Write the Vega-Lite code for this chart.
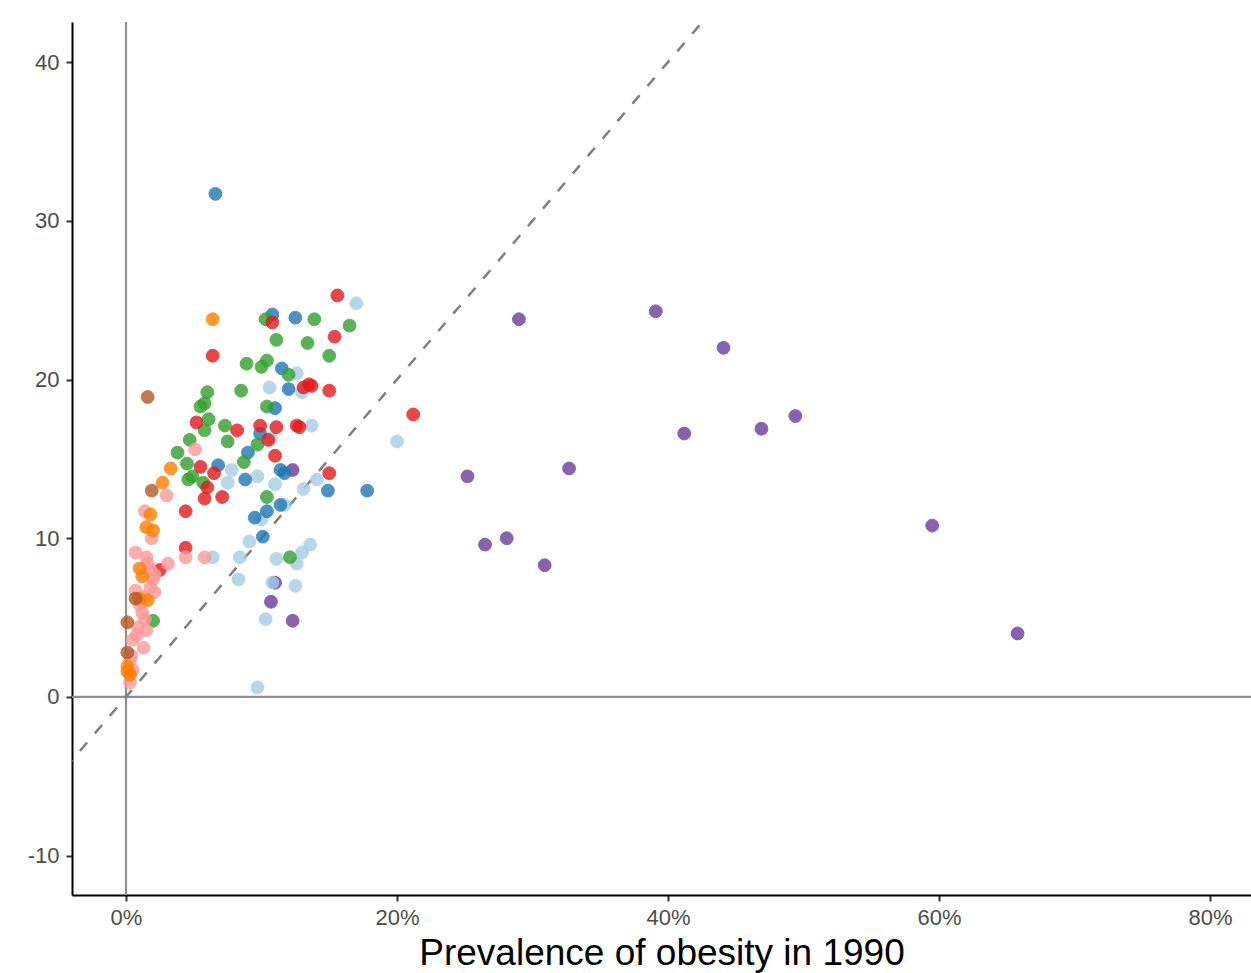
{
  "$schema": "https://vega.github.io/schema/vega-lite/v6.json",
  "width": 1179,
  "height": 873,
  "autosize": {"type": "none"},
  "padding": {"left": 72, "top": 22, "right": 0, "bottom": 78},
  "background": "white",
  "config": {
    "view": {"stroke": null},
    "axis": {
      "grid": false,
      "labelFont": "Liberation Sans",
      "labelFontSize": 22,
      "labelColor": "#4d4d4d",
      "tickColor": "#333333",
      "tickSize": 6,
      "tickWidth": 2,
      "domainColor": "#000000",
      "domainWidth": 2,
      "titleFont": "Liberation Sans",
      "titleFontSize": 37,
      "titleFontWeight": "normal",
      "titleColor": "#000000"
    },
    "axisX": {"titlePadding": 7, "labelPadding": 6},
    "axisY": {"labelPadding": 7}
  },
  "layer": [
    {
      "data": {"values": [{"x": 0}]},
      "mark": {"type": "rule", "color": "#8f8f8f", "strokeWidth": 2.2},
      "encoding": {
        "x": {"field": "x", "type": "quantitative", "scale": {"domain": [-0.03985, 0.8303], "nice": false, "zero": false}, "title": "Prevalence of obesity in 1990",
          "axis": {"values": [0, 0.2, 0.4, 0.6, 0.8], "format": ".0%"}}
      }
    },
    {
      "data": {"values": [{"y": 0}]},
      "mark": {"type": "rule", "color": "#8f8f8f", "strokeWidth": 2.2},
      "encoding": {
        "y": {"field": "y", "type": "quantitative", "scale": {"domain": [-12.48, 42.53], "nice": false, "zero": false}, "title": null,
          "axis": {"values": [-10, 0, 10, 20, 30, 40], "labelExpr": "'' + datum.value"}}
      }
    },
    {
      "data": {"values": [{"x": -0.045, "y": -4.5}, {"x": 0.44, "y": 44}]},
      "mark": {"type": "line", "color": "#7f7f7f", "strokeWidth": 2.5, "strokeDash": [11, 12], "clip": true},
      "encoding": {
        "x": {"field": "x", "type": "quantitative", "scale": {"domain": [-0.03985, 0.8303], "nice": false, "zero": false}, "title": "Prevalence of obesity in 1990",
          "axis": {"values": [0, 0.2, 0.4, 0.6, 0.8], "format": ".0%"}},
        "y": {"field": "y", "type": "quantitative", "scale": {"domain": [-12.48, 42.53], "nice": false, "zero": false}, "title": null,
          "axis": {"values": [-10, 0, 10, 20, 30, 40], "labelExpr": "'' + datum.value"}}
      }
    },
    {
      "data": {"values": [
        {"g": "Purple", "x": 0.290, "y": 23.8},
        {"g": "Purple", "x": 0.391, "y": 24.3},
        {"g": "Purple", "x": 0.441, "y": 22.0},
        {"g": "Purple", "x": 0.412, "y": 16.6},
        {"g": "Purple", "x": 0.469, "y": 16.9},
        {"g": "Purple", "x": 0.494, "y": 17.7},
        {"g": "Purple", "x": 0.327, "y": 14.4},
        {"g": "Purple", "x": 0.252, "y": 13.9},
        {"g": "Purple", "x": 0.265, "y": 9.6},
        {"g": "Purple", "x": 0.281, "y": 10.0},
        {"g": "Purple", "x": 0.309, "y": 8.3},
        {"g": "Purple", "x": 0.595, "y": 10.8},
        {"g": "Purple", "x": 0.658, "y": 4.0},
        {"g": "Purple", "x": 0.123, "y": 14.3},
        {"g": "Purple", "x": 0.110, "y": 7.2},
        {"g": "Purple", "x": 0.107, "y": 6.0},
        {"g": "Purple", "x": 0.123, "y": 4.8},

        {"g": "LightBlue", "x": 0.170, "y": 24.8},
        {"g": "LightBlue", "x": 0.106, "y": 19.5},
        {"g": "LightBlue", "x": 0.126, "y": 20.4},
        {"g": "LightBlue", "x": 0.130, "y": 19.2},
        {"g": "LightBlue", "x": 0.137, "y": 17.1},
        {"g": "LightBlue", "x": 0.107, "y": 16.3},
        {"g": "LightBlue", "x": 0.200, "y": 16.1},
        {"g": "LightBlue", "x": 0.078, "y": 14.3},
        {"g": "LightBlue", "x": 0.075, "y": 13.5},
        {"g": "LightBlue", "x": 0.097, "y": 13.9},
        {"g": "LightBlue", "x": 0.110, "y": 13.4},
        {"g": "LightBlue", "x": 0.131, "y": 13.1},
        {"g": "LightBlue", "x": 0.141, "y": 13.7},
        {"g": "LightBlue", "x": 0.117, "y": 12.1},
        {"g": "LightBlue", "x": 0.100, "y": 11.2},
        {"g": "LightBlue", "x": 0.091, "y": 9.8},
        {"g": "LightBlue", "x": 0.084, "y": 8.8},
        {"g": "LightBlue", "x": 0.064, "y": 8.8},
        {"g": "LightBlue", "x": 0.111, "y": 8.7},
        {"g": "LightBlue", "x": 0.130, "y": 9.1},
        {"g": "LightBlue", "x": 0.136, "y": 9.6},
        {"g": "LightBlue", "x": 0.126, "y": 8.4},
        {"g": "LightBlue", "x": 0.083, "y": 7.4},
        {"g": "LightBlue", "x": 0.108, "y": 7.2},
        {"g": "LightBlue", "x": 0.125, "y": 7.0},
        {"g": "LightBlue", "x": 0.103, "y": 4.9},
        {"g": "LightBlue", "x": 0.097, "y": 0.6},

        {"g": "Blue", "x": 0.066, "y": 31.7},
        {"g": "Blue", "x": 0.108, "y": 24.1},
        {"g": "Blue", "x": 0.125, "y": 23.9},
        {"g": "Blue", "x": 0.115, "y": 20.7},
        {"g": "Blue", "x": 0.120, "y": 19.4},
        {"g": "Blue", "x": 0.110, "y": 18.2},
        {"g": "Blue", "x": 0.099, "y": 16.6},
        {"g": "Blue", "x": 0.090, "y": 15.4},
        {"g": "Blue", "x": 0.068, "y": 14.6},
        {"g": "Blue", "x": 0.088, "y": 13.7},
        {"g": "Blue", "x": 0.114, "y": 14.3},
        {"g": "Blue", "x": 0.117, "y": 14.1},
        {"g": "Blue", "x": 0.149, "y": 13.0},
        {"g": "Blue", "x": 0.178, "y": 13.0},
        {"g": "Blue", "x": 0.114, "y": 12.1},
        {"g": "Blue", "x": 0.104, "y": 11.7},
        {"g": "Blue", "x": 0.095, "y": 11.3},
        {"g": "Blue", "x": 0.101, "y": 10.1},

        {"g": "Green", "x": 0.103, "y": 23.8},
        {"g": "Green", "x": 0.139, "y": 23.8},
        {"g": "Green", "x": 0.165, "y": 23.4},
        {"g": "Green", "x": 0.111, "y": 22.5},
        {"g": "Green", "x": 0.134, "y": 22.3},
        {"g": "Green", "x": 0.089, "y": 21.0},
        {"g": "Green", "x": 0.104, "y": 21.2},
        {"g": "Green", "x": 0.100, "y": 20.8},
        {"g": "Green", "x": 0.150, "y": 21.5},
        {"g": "Green", "x": 0.120, "y": 20.3},
        {"g": "Green", "x": 0.085, "y": 19.3},
        {"g": "Green", "x": 0.060, "y": 19.2},
        {"g": "Green", "x": 0.055, "y": 18.3},
        {"g": "Green", "x": 0.058, "y": 18.5},
        {"g": "Green", "x": 0.104, "y": 18.3},
        {"g": "Green", "x": 0.061, "y": 17.5},
        {"g": "Green", "x": 0.058, "y": 16.8},
        {"g": "Green", "x": 0.073, "y": 17.1},
        {"g": "Green", "x": 0.075, "y": 16.1},
        {"g": "Green", "x": 0.047, "y": 16.2},
        {"g": "Green", "x": 0.097, "y": 15.9},
        {"g": "Green", "x": 0.038, "y": 15.4},
        {"g": "Green", "x": 0.045, "y": 14.7},
        {"g": "Green", "x": 0.087, "y": 14.8},
        {"g": "Green", "x": 0.046, "y": 13.7},
        {"g": "Green", "x": 0.049, "y": 13.9},
        {"g": "Green", "x": 0.057, "y": 13.5},
        {"g": "Green", "x": 0.104, "y": 12.6},
        {"g": "Green", "x": 0.121, "y": 8.8},
        {"g": "Green", "x": 0.020, "y": 4.8},

        {"g": "Red", "x": 0.156, "y": 25.3},
        {"g": "Red", "x": 0.108, "y": 23.6},
        {"g": "Red", "x": 0.154, "y": 22.7},
        {"g": "Red", "x": 0.064, "y": 21.5},
        {"g": "Red", "x": 0.212, "y": 17.8},
        {"g": "Red", "x": 0.150, "y": 19.3},
        {"g": "Red", "x": 0.131, "y": 19.5},
        {"g": "Red", "x": 0.135, "y": 19.7},
        {"g": "Red", "x": 0.137, "y": 19.6},
        {"g": "Red", "x": 0.126, "y": 17.1},
        {"g": "Red", "x": 0.128, "y": 17.0},
        {"g": "Red", "x": 0.111, "y": 17.0},
        {"g": "Red", "x": 0.099, "y": 17.1},
        {"g": "Red", "x": 0.082, "y": 16.8},
        {"g": "Red", "x": 0.052, "y": 17.3},
        {"g": "Red", "x": 0.105, "y": 16.2},
        {"g": "Red", "x": 0.110, "y": 15.2},
        {"g": "Red", "x": 0.055, "y": 14.5},
        {"g": "Red", "x": 0.065, "y": 14.1},
        {"g": "Red", "x": 0.060, "y": 13.2},
        {"g": "Red", "x": 0.058, "y": 12.5},
        {"g": "Red", "x": 0.071, "y": 12.6},
        {"g": "Red", "x": 0.150, "y": 14.1},
        {"g": "Red", "x": 0.044, "y": 11.7},
        {"g": "Red", "x": 0.044, "y": 9.4},
        {"g": "Red", "x": 0.025, "y": 8.0},

        {"g": "Pink", "x": 0.051, "y": 15.6},
        {"g": "Pink", "x": 0.030, "y": 12.7},
        {"g": "Pink", "x": 0.014, "y": 11.7},
        {"g": "Pink", "x": 0.019, "y": 10.0},
        {"g": "Pink", "x": 0.007, "y": 9.1},
        {"g": "Pink", "x": 0.015, "y": 8.8},
        {"g": "Pink", "x": 0.031, "y": 8.4},
        {"g": "Pink", "x": 0.016, "y": 8.4},
        {"g": "Pink", "x": 0.044, "y": 8.8},
        {"g": "Pink", "x": 0.058, "y": 8.8},
        {"g": "Pink", "x": 0.020, "y": 7.4},
        {"g": "Pink", "x": 0.018, "y": 6.9},
        {"g": "Pink", "x": 0.013, "y": 6.3},
        {"g": "Pink", "x": 0.012, "y": 5.3},
        {"g": "Pink", "x": 0.009, "y": 4.4},
        {"g": "Pink", "x": 0.005, "y": 3.6},
        {"g": "Pink", "x": 0.013, "y": 3.1},
        {"g": "Pink", "x": 0.003, "y": 2.3},
        {"g": "Pink", "x": 0.005, "y": 1.7},
        {"g": "Pink", "x": 0.003, "y": 0.9},
        {"g": "Pink", "x": 0.010, "y": 5.8},
        {"g": "Pink", "x": 0.014, "y": 4.9},
        {"g": "Pink", "x": 0.008, "y": 3.9},
        {"g": "Pink", "x": 0.018, "y": 8.0},
        {"g": "Pink", "x": 0.021, "y": 7.7},
        {"g": "Pink", "x": 0.007, "y": 6.7},
        {"g": "Pink", "x": 0.010, "y": 6.1},
        {"g": "Pink", "x": 0.004, "y": 2.6},
        {"g": "Pink", "x": 0.015, "y": 4.2},
        {"g": "Pink", "x": 0.021, "y": 6.6},

        {"g": "Orange", "x": 0.064, "y": 23.8},
        {"g": "Orange", "x": 0.033, "y": 14.4},
        {"g": "Orange", "x": 0.027, "y": 13.5},
        {"g": "Orange", "x": 0.018, "y": 11.5},
        {"g": "Orange", "x": 0.015, "y": 10.7},
        {"g": "Orange", "x": 0.020, "y": 10.5},
        {"g": "Orange", "x": 0.010, "y": 8.1},
        {"g": "Orange", "x": 0.012, "y": 7.6},
        {"g": "Orange", "x": 0.010, "y": 6.2},
        {"g": "Orange", "x": 0.016, "y": 6.1},
        {"g": "Orange", "x": 0.001, "y": 1.9},
        {"g": "Orange", "x": 0.003, "y": 1.4},
        {"g": "Orange", "x": 0.001, "y": 1.6},

        {"g": "Brown", "x": 0.016, "y": 18.9},
        {"g": "Brown", "x": 0.019, "y": 13.0},
        {"g": "Brown", "x": 0.007, "y": 6.2},
        {"g": "Brown", "x": 0.001, "y": 4.7},
        {"g": "Brown", "x": 0.001, "y": 2.8}
      ]},
      "mark": {"type": "circle", "size": 165, "opacity": 0.8, "strokeWidth": 1},
      "encoding": {
        "x": {"field": "x", "type": "quantitative", "scale": {"domain": [-0.03985, 0.8303], "nice": false, "zero": false}, "title": "Prevalence of obesity in 1990",
          "axis": {"values": [0, 0.2, 0.4, 0.6, 0.8], "format": ".0%"}},
        "y": {"field": "y", "type": "quantitative", "scale": {"domain": [-12.48, 42.53], "nice": false, "zero": false}, "title": null,
          "axis": {"values": [-10, 0, 10, 20, 30, 40], "labelExpr": "'' + datum.value"}},
        "color": {"field": "g", "type": "nominal", "legend": null,
          "scale": {"domain": ["LightBlue", "Blue", "Green", "Pink", "Red", "Orange", "Purple", "Brown"],
                    "range": ["#a6cee3", "#1f78b4", "#33a02c", "#fb9a99", "#e31a1c", "#ff7f00", "#6a3d9a", "#b15928"]}},
        "stroke": {"field": "g", "type": "nominal", "legend": null,
          "scale": {"domain": ["LightBlue", "Blue", "Green", "Pink", "Red", "Orange", "Purple", "Brown"],
                    "range": ["#a6cee3", "#1f78b4", "#33a02c", "#fb9a99", "#e31a1c", "#ff7f00", "#6a3d9a", "#b15928"]}}
      }
    }
  ]
}
